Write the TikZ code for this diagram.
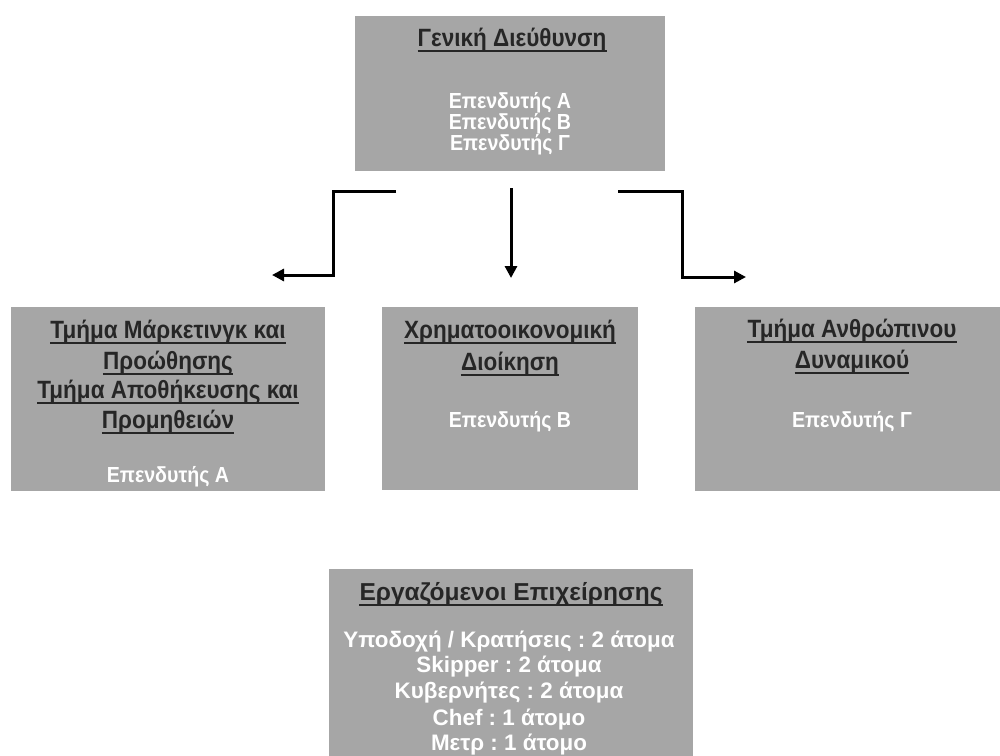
\documentclass[tikz,border=0pt]{standalone}
\usepackage{fontspec}
\setmainfont{Liberation Sans}
\newfontfamily\narrowf[FakeStretch=0.9]{Liberation Sans}
\usetikzlibrary{arrows.meta}
\definecolor{boxgray}{HTML}{A6A6A6}
\definecolor{ttlgray}{HTML}{262626}
\frenchspacing
\tikzset{
  box/.style={fill=boxgray, draw=none, inner sep=0pt, anchor=north west},
  ttl/.style={font=\narrowf\bfseries\fontsize{25}{30}\selectfont, text=ttlgray, anchor=base, inner sep=0pt},
  inv/.style={font=\narrowf\bfseries\fontsize{21.8}{26}\selectfont, text=white, anchor=base, inner sep=0pt},
  bttl/.style={font=\bfseries\fontsize{24.5}{29}\selectfont, text=ttlgray, anchor=base, inner sep=0pt},
  binv/.style={font=\bfseries\fontsize{22.4}{26}\selectfont, text=white, anchor=base, inner sep=0pt},
  uln/.style={draw=ttlgray, line width=2pt},
  arr/.style={draw=black, line width=3pt, -{Triangle[length=12pt,width=12pt]}}
}
\begin{document}
\begin{tikzpicture}[x=1pt,y=-1pt]
\useasboundingbox (0,0) rectangle (1000,755);
\clip (0,0) rectangle (1000,755);
% boxes
\node[box, minimum width=310pt, minimum height=155pt] (gd) at (355,16) {};
\node[box, minimum width=314pt, minimum height=184pt] (mk) at (11,307) {};
\node[box, minimum width=256pt, minimum height=183pt] (fin) at (382,307) {};
\node[box, minimum width=315pt, minimum height=184pt] (hr) at (695,307) {};
\node[box, minimum width=364pt, minimum height=200pt] (emp) at (329,569) {};
% top box text
\node[ttl] (gdt) at (512,46) {Γενική Διεύθυνση};
\node[inv] (gda) at (510,108) {Επενδυτής Α};
\node[inv] (gdb) at (510,129) {Επενδυτής Β};
\node[inv] (gdc) at (510,150) {Επενδυτής Γ};
% left box text
\node[ttl] (mk1) at (168,338) {Τμήμα Μάρκετινγκ και};
\node[ttl] (mk2) at (168,369) {Προώθησης};
\node[ttl] (mk3) at (168,398) {Τμήμα Αποθήκευσης και};
\node[ttl] (mk4) at (168,428) {Προμηθειών};
\node[inv] (mka) at (168,482) {Επενδυτής Α};
% middle box text
\node[ttl] (fin1) at (510,338) {Χρηματοοικονομική};
\node[ttl] (fin2) at (510,370) {Διοίκηση};
\node[inv] (finb) at (510,427) {Επενδυτής Β};
% right box text
\node[ttl] (hr1) at (852,337) {Τμήμα Ανθρώπινου};
\node[ttl] (hr2) at (852,368) {Δυναμικού};
\node[inv] (hrc) at (852,427) {Επενδυτής Γ};
% bottom box text
\node[bttl] (empt) at (511,600) {Εργαζόμενοι Επιχείρησης};
\node[binv] (e1) at (509,647) {Υποδοχή / Κρατήσεις : 2 άτομα};
\node[binv] (e2) at (509,672) {Skipper : 2 άτομα};
\node[binv] (e3) at (509,698) {Κυβερνήτες : 2 άτομα};
\node[binv] (e4) at (509,725) {Chef : 1 άτομο};
\node[binv] (e5) at (509,750) {Μετρ : 1 άτομο};
% underlines
\foreach \n in {gdt,mk1,mk2,mk3,mk4,fin1,fin2,hr1,hr2,empt}
  \draw[uln] ([yshift=-4.5pt]\n.base west) -- ([yshift=-4.5pt]\n.base east);
% connectors
\coordinate (ls) at (396,191);
\coordinate (lk) at (333,275);
\coordinate (le) at (272,275);
\coordinate (ms) at (511,188);
\coordinate (me) at (511,278);
\coordinate (rs) at (618,191);
\coordinate (rk) at (682,277);
\coordinate (re) at (746,277);
\draw[arr] (ls) -| (lk) -- (le);
\draw[arr] (ms) -- (me);
\draw[arr] (rs) -| (rk) -- (re);
\end{tikzpicture}
\end{document}
